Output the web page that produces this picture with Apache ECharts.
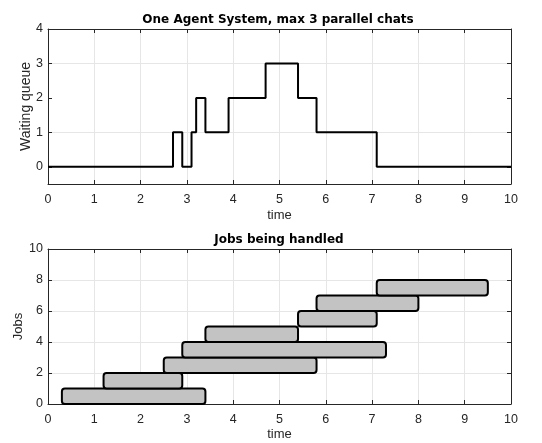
<!DOCTYPE html>
<html>
<head>
<meta charset="utf-8">
<script src="https://cdn.jsdelivr.net/npm/echarts@6/dist/echarts.min.js"></script>
<style>
html, body { margin: 0; padding: 0; background: #fff; }
#graph { width: 542px; height: 443px; }
</style>
</head>
<body>
<div id="graph"></div>
<script>
"use strict"

// waiting queue: change points (time, queue length)
const queueTimes = [0, 2.7, 2.9, 3.1, 3.2, 3.4, 3.9, 4.7, 5.4, 5.8, 7.1, 10];
const queueVals = [0, 1, 0, 1, 2, 1, 2, 3, 2, 1, 0, 0];

// jobs: start / end time, job k spans y k-1 .. k
const jobStart = [0.3, 1.2, 2.5, 2.9, 3.4, 5.4, 5.8, 7.1];
const jobEnd = [3.4, 2.9, 5.8, 7.3, 5.4, 7.1, 8.0, 9.5];

const topTicks = [0, 1, 2, 3, 4];

const FONT = "Liberation Sans";
const txt = "#262626";
const gridCol = "#e6e6e6";

const axisBase = (extra) => Object.assign({
    nameMoveOverlap: false,
    axisLine: { show: true, onZero: false, lineStyle: { color: txt, width: 1 } },
    axisTick: { show: true, inside: true, length: 4, lineStyle: { color: txt } },
    axisLabel: { color: txt, fontFamily: FONT, fontSize: 12.5, margin: 7 },
    splitLine: { show: true, lineStyle: { color: gridCol, width: 1 } },
    nameTextStyle: { color: txt, fontFamily: FONT, fontSize: 13 }
}, extra);

const boxAxis = (pos, gi, min, max, interval, tickVals) => ({
    type: "value", position: pos, gridIndex: gi, min: min, max: max, interval: interval,
    axisLine: { show: true, onZero: false, lineStyle: { color: txt, width: 1 } },
    axisTick: tickVals ? { show: true, inside: true, length: 4, customValues: tickVals, lineStyle: { color: txt } }
        : { show: true, inside: true, length: 4, lineStyle: { color: txt } },
    axisLabel: { show: false },
    splitLine: { show: false }
});

const jobData = jobStart.map((s, i) => [s, jobEnd[i], i]);

const myChart = echarts.init(document.getElementById("graph"), null, { renderer: "canvas" });

const titleStyle = { fontFamily: "DejaVu Sans", fontSize: 12, fontWeight: "bold", color: "#000" };

myChart.setOption({
    animation: false,
    title: [
        { text: "One Agent System, max 3 parallel chats", left: 273, top: 9, textAlign: "center", textStyle: titleStyle },
        { text: "Jobs being handled", left: 274, top: 229, textAlign: "center", textStyle: titleStyle }
    ],
    grid: [
        { left: 48, right: 31, top: 29, bottom: 259 },
        { left: 48, right: 31, top: 249, bottom: 39 }
    ],
    xAxis: [
        axisBase({ type: "value", gridIndex: 0, min: 0, max: 10, interval: 1, position: "bottom",
            name: "time", nameLocation: "middle", nameGap: 25,
            axisLabel: { color: txt, fontFamily: FONT, fontSize: 12.5, margin: 9 } }),
        axisBase({ type: "value", gridIndex: 1, min: 0, max: 10, interval: 1, position: "bottom",
            name: "time", nameLocation: "middle", nameGap: 24,
            axisLabel: { color: txt, fontFamily: FONT, fontSize: 12.5, margin: 9 } }),
        boxAxis("top", 0, 0, 10, 1),
        boxAxis("top", 1, 0, 10, 1)
    ],
    yAxis: [
        axisBase({ type: "value", gridIndex: 0, min: -0.5, max: 4, interval: 0.5, position: "left",
            name: "Waiting queue", nameLocation: "middle", nameGap: 15,
            axisTick: { show: true, inside: true, length: 4, customValues: topTicks, lineStyle: { color: txt } },
            axisLabel: { color: txt, fontFamily: FONT, fontSize: 12.5, margin: 5, customValues: topTicks },
            splitLine: { show: true, lineStyle: { color: ["transparent", gridCol], width: 1 } },
            nameTextStyle: { color: txt, fontFamily: FONT, fontSize: 14 } }),
        axisBase({ type: "value", gridIndex: 1, min: 0, max: 10, interval: 2, position: "left",
            name: "Jobs", nameLocation: "middle", nameGap: 23,
            axisLabel: { color: txt, fontFamily: FONT, fontSize: 12.5, margin: 5 },
            nameTextStyle: { color: txt, fontFamily: FONT, fontSize: 13 } }),
        boxAxis("right", 0, -0.5, 4, 0.5, topTicks),
        boxAxis("right", 1, 0, 10, 2)
    ],
    series: [
        {
            type: "line", xAxisIndex: 0, yAxisIndex: 0, step: "end", symbol: "none",
            lineStyle: { color: "#000", width: 2 },
            data: queueTimes.map((t, i) => [t, queueVals[i]])
        },
        {
            type: "custom", xAxisIndex: 1, yAxisIndex: 1,
            renderItem: (params, api) =>
            {
                const p0 = api.coord([api.value(0), api.value(2)]);
                const p1 = api.coord([api.value(1), api.value(2) + 1]);
                return {
                    type: "rect",
                    shape: { x: p0[0], y: p1[1], width: p1[0] - p0[0], height: p0[1] - p1[1], r: 3 },
                    style: { fill: "#c3c3c3", stroke: "#000", lineWidth: 2 }
                };
            },
            data: jobData
        }
    ]
});
</script>
</body>
</html>
